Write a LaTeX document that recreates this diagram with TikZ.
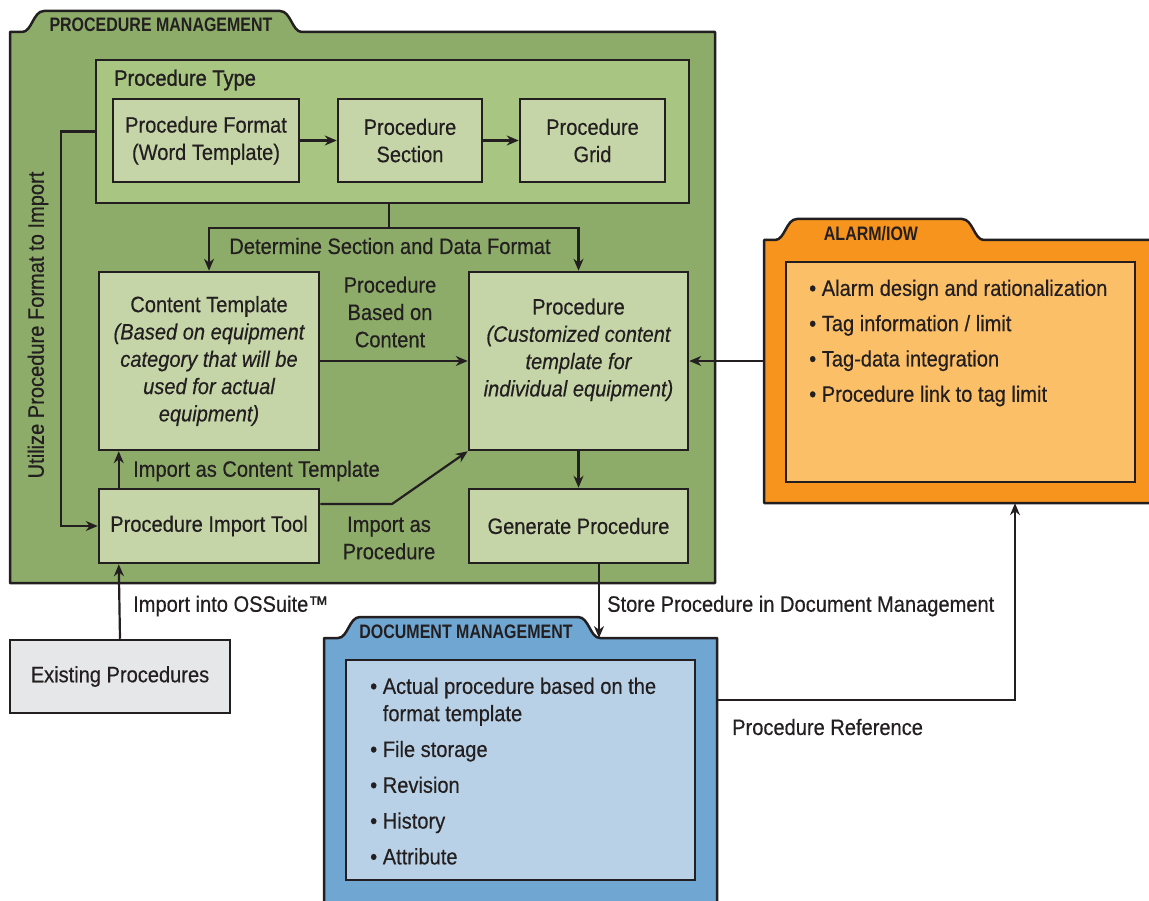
\documentclass[tikz,border=0pt]{standalone}
\usepackage{fontspec}
\setmainfont{Liberation Sans}[FakeStretch=0.9, FakeBold=0.4]
\newfontfamily\tabfont{Liberation Sans}[FakeStretch=0.82]
\newfontfamily\headfont{Liberation Sans}[FakeStretch=0.9, FakeBold=1.2]
\usetikzlibrary{arrows.meta, positioning}

\definecolor{linec}{HTML}{231F20}
\definecolor{pmgreen}{HTML}{8DAC69}
\definecolor{typegreen}{HTML}{A8C682}
\definecolor{boxgreen}{HTML}{C5D5A8}
\definecolor{alarmorange}{HTML}{F7941D}
\definecolor{alarmlight}{HTML}{FBBF68}
\definecolor{docblue}{HTML}{6FA6D2}
\definecolor{doclight}{HTML}{B9D1E6}
\definecolor{existgray}{HTML}{E6E7E8}

\begin{document}
\begin{tikzpicture}[
    x=1pt, y=-1pt,
    txt/.style={font=\fontsize{22.3}{27.3}\selectfont, text=linec},
    box/.style={rectangle, draw=linec, line width=2.5pt, fill=boxgreen, align=center, inner sep=0pt, txt},
    typebox/.style={box, fill=typegreen},
    listbox/.style={rectangle, draw=linec, line width=2.5pt, inner sep=0pt},
    folder/.style={draw=linec, line width=2.5pt, line join=round},
    body/.style={rectangle, draw=none, inner sep=0pt},
    tabtitle/.style={font=\tabfont\bfseries\fontsize{19.5}{22}\selectfont, text=linec, inner sep=0pt},
    lbl/.style={txt, align=center, inner sep=0pt},
    arrow/.style={-{Stealth[length=12pt, width=10pt]}, line width=2.2pt, draw=linec}
]
\clip (0,0) rectangle (1149,901);

% folders
\path[folder, fill=pmgreen] (10,583) -- (10,32) -- (22,32) .. controls (32,32) and (33,11) .. (44,11)
    -- (280,11) .. controls (291,11) and (292,32) .. (302,32) -- (715,32) -- (715,583) -- cycle;
\node[tabtitle] (pmtitle) at (161,25) {PROCEDURE MANAGEMENT};

\path[folder, fill=docblue] (324,910) -- (324,638) -- (338,638) .. controls (348,638) and (349,617) .. (360,617)
    -- (578,617) .. controls (589,617) and (590,638) .. (600,638) -- (717,638) -- (717,910) -- cycle;
\node[body, minimum width=393pt, minimum height=272pt] (docbody) at (520.5,774) {};
\node[tabtitle] (doctitle) at (466,632) {DOCUMENT MANAGEMENT};

\path[folder, fill=alarmorange] (764,503) -- (764,240) -- (775,240) .. controls (785,240) and (786,219) .. (797,219)
    -- (962,219) .. controls (973,219) and (974,240) .. (984,240) -- (1160,240) -- (1160,503) -- cycle;
\node[body, minimum width=396pt, minimum height=263pt] (alarmbody) at (962,371.5) {};
\node[tabtitle] (alarmtitle) at (871,234) {ALARM/IOW};

% procedure type
\node[typebox, minimum width=593pt, minimum height=143pt] (ptype) at (392.5,131.5) {};
\node[txt, font=\headfont\fontsize{22.3}{27.3}\selectfont, anchor=west, inner sep=0pt] (ptypetitle) at (114,80) {Procedure Type};
\node[box, minimum width=186pt, minimum height=83pt] (fmt) at (206,140.5) {Procedure Format\\(Word Template)};
\node[box, minimum width=144pt, minimum height=83pt] (sect) at (410,140.5) {Procedure\\Section};
\node[box, minimum width=145pt, minimum height=83pt] (grid) at (592.5,140.5) {Procedure\\Grid};

\draw[arrow] (fmt) -- (sect);
\draw[arrow] (sect) -- (grid);

% content and procedure
\node[box, minimum width=220pt, minimum height=178pt] (ctemp) at (209,361) {Content Template\\\itshape(Based on equipment\\\itshape category that will be\\\itshape used for actual\\\itshape equipment)};
\node[box, minimum width=219pt, minimum height=178pt] (proc) at (578.5,361) {Procedure\\\itshape(Customized content\\\itshape template for\\\itshape individual equipment)\\\mbox{}};
\node[box, minimum width=220pt, minimum height=74pt] (imptool) at (209,526) {Procedure Import Tool};
\node[box, minimum width=219pt, minimum height=74pt] (gen) at (578.5,526) {Generate Procedure};
\node[box, fill=existgray, minimum width=220pt, minimum height=73pt] (exist) at (120,676.5) {Existing Procedures};

\coordinate (split) at (389,228);
\draw[line width=2.2pt, draw=linec] (ptype.south -| split) -- (split);
\draw[arrow] (split) -| (ctemp.north);
\draw[arrow] (split) -| (proc.north);
\node[lbl] (detlbl) at (390,246) {Determine Section and Data Format};

\draw[arrow] (ctemp) -- (proc);
\node[lbl] (baslbl) at (390,312) {Procedure\\Based on\\Content};

\draw[arrow] ([xshift=21pt]imptool.north west) -- ([xshift=21pt]ctemp.south west);
\node[lbl, anchor=west] (ctlbl) at (133,471) {Import as Content Template};

\draw[arrow, line join=round] ([yshift=22pt]imptool.east) -- (392,504) -- (proc.south west);
\node[lbl] (iplbl) at (389,538) {Import as\\Procedure};

\draw[arrow] (proc) -- (gen);

\draw[arrow] (ptype.west) -- ++(-34,0) |- (imptool.west);
\node[lbl, rotate=90] (utillbl) at (38,325) {Utilize Procedure Format to Import};

\draw[arrow] (exist.north) -- ([xshift=21pt]imptool.south west);
\node[lbl, anchor=west] (osslbl) at (133,606) {Import into OSSuite™};

\coordinate (doctop) at (599,638);
\draw[arrow] (gen.south -| doctop) -- (doctop);
\node[lbl, anchor=west] (storelbl) at (607,606) {Store Procedure in Document Management};

% lists
\node[listbox, fill=doclight, minimum width=349pt, minimum height=220pt] (doclist) at (520.5,770) {};
\node[txt, align=left, anchor=north west, inner sep=0pt] (docitems) at (370,677.5) {%
  • Actual procedure based on the\\
  \phantom{• }format template\\[8.5pt]
  • File storage\\[8.5pt]
  • Revision\\[8.5pt]
  • History\\[8.5pt]
  • Attribute};

\node[listbox, fill=alarmlight, minimum width=349pt, minimum height=220pt] (alarmlist) at (960.5,372) {};
\node[txt, align=left, anchor=north west, inner sep=0pt] (alarmitems) at (809,279.5) {%
  • Alarm design and rationalization\\[8pt]
  • Tag information / limit\\[8pt]
  • Tag-data integration\\[8pt]
  • Procedure link to tag limit};

\draw[arrow] (alarmbody.west |- proc.east) -- (proc.east);
\draw[arrow, line width=1.6pt] ([yshift=74pt]docbody.east) -| ([xshift=53pt]alarmbody.south);
\node[lbl, anchor=west] (reflbl) at (732,727) {Procedure Reference};

\end{tikzpicture}
\end{document}
